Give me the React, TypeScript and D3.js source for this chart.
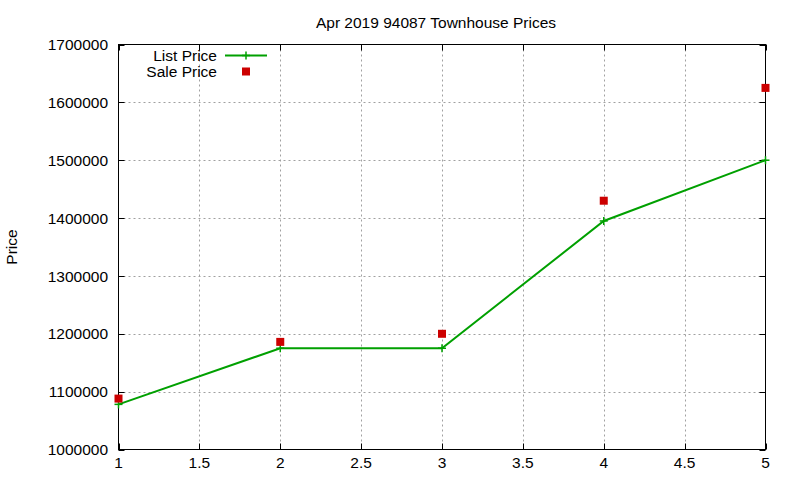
import * as d3 from "d3";

// Chart data
const xValues = [1, 2, 3, 4, 5];
const listPrice = [1078000, 1175000, 1175000, 1395000, 1500000];
const salePrice = [1088000, 1186000, 1200000, 1430000, 1625000];
const xTicks = [1, 1.5, 2, 2.5, 3, 3.5, 4, 4.5, 5];
const yTicks = [1000000, 1100000, 1200000, 1300000, 1400000, 1500000, 1600000, 1700000];

const width = 800;
const height = 480;
const margin = { top: 44.5, right: 34.5, bottom: 30.5, left: 118.5 };
const font = "'Liberation Sans', Arial, sans-serif";

export default function App() {
  const x = d3.scaleLinear().domain([1, 5]).range([margin.left, width - margin.right]);
  const y = d3.scaleLinear().domain([1000000, 1700000]).range([height - margin.bottom, margin.top]);

  const line = d3
    .line<number>()
    .x((_, i) => x(xValues[i]))
    .y((d) => y(d));

  const tick = 6;
  const x0 = x.range()[0];
  const x1 = x.range()[1];
  const y0 = y.range()[0];
  const y1 = y.range()[1];

  return (
    <div style={{ position: "absolute", left: 0, top: 0 }}>
      <svg width={width} height={height} style={{ display: "block", background: "#fff" }} fontFamily={font}>
        {/* grid */}
        <g stroke="#a0a0a0" strokeWidth={1} strokeDasharray="2 3">
          {xTicks.slice(1, -1).map((t) => (
            <line key={"gx" + t} x1={Math.round(x(t)) + 0.5} x2={Math.round(x(t)) + 0.5} y1={y1} y2={y0} />
          ))}
          {yTicks.slice(1, -1).map((t) => (
            <line key={"gy" + t} x1={x0} x2={x1} y1={Math.round(y(t)) + 0.5} y2={Math.round(y(t)) + 0.5} />
          ))}
        </g>

        {/* tick marks, mirrored on all sides */}
        <g stroke="#000" strokeWidth={1}>
          {xTicks.map((t) => {
            const px = Math.round(x(t)) + 0.5;
            return (
              <g key={"tx" + t}>
                <line x1={px} x2={px} y1={y0} y2={y0 - tick} />
                <line x1={px} x2={px} y1={y1} y2={y1 + tick} />
              </g>
            );
          })}
          {yTicks.map((t) => {
            const py = Math.round(y(t)) + 0.5;
            return (
              <g key={"ty" + t}>
                <line x1={x0} x2={x0 + tick} y1={py} y2={py} />
                <line x1={x1} x2={x1 - tick} y1={py} y2={py} />
              </g>
            );
          })}
        </g>

        {/* frame */}
        <rect x={x0} y={y1} width={x1 - x0} height={y0 - y1} fill="none" stroke="#000" strokeWidth={1} />

        {/* tick labels */}
        <g fontSize={15.5} fill="#000">
          {xTicks.map((t) => (
            <text key={"lx" + t} x={x(t)} y={468} textAnchor="middle">
              {d3.format("")(t)}
            </text>
          ))}
          {yTicks.map((t) => (
            <text key={"ly" + t} x={108} y={y(t)} dy="0.36em" textAnchor="end">
              {t}
            </text>
          ))}
        </g>

        {/* axis title and chart title */}
        <text x={0} y={0} fontSize={15.5} textAnchor="middle" transform={`translate(17,247) rotate(-90)`}>
          Price
        </text>
        <text x={436} y={28} fontSize={15.5} textAnchor="middle">
          Apr 2019 94087 Townhouse Prices
        </text>

        {/* list price line */}
        <path d={line(listPrice) ?? ""} fill="none" stroke="#00a000" strokeWidth={2} />
        <g stroke="#00a000" strokeWidth={1.5}>
          {listPrice.map((v, i) => (
            <g key={"lp" + i}>
              <line x1={x(xValues[i]) - 4} x2={x(xValues[i]) + 4} y1={y(v)} y2={y(v)} />
              <line x1={x(xValues[i])} x2={x(xValues[i])} y1={y(v) - 4} y2={y(v) + 4} />
            </g>
          ))}
        </g>

        {/* sale price points */}
        <g fill="#cc0000">
          {salePrice.map((v, i) => (
            <rect key={"sp" + i} x={x(xValues[i]) - 4} y={y(v) - 4} width={8} height={8} />
          ))}
        </g>

        {/* legend */}
        <g fontSize={15.5}>
          <text x={217} y={55.5} dy="0.36em" textAnchor="end">
            List Price
          </text>
          <line x1={225} x2={267} y1={55.5} y2={55.5} stroke="#00a000" strokeWidth={2} />
          <line x1={242} x2={250} y1={55.5} y2={55.5} stroke="#00a000" strokeWidth={1.5} />
          <line x1={246} x2={246} y1={51.5} y2={59.5} stroke="#00a000" strokeWidth={1.5} />
          <text x={217} y={71} dy="0.36em" textAnchor="end">
            Sale Price
          </text>
          <rect x={242} y={67.5} width={8} height={8} fill="#cc0000" />
        </g>
      </svg>
    </div>
  );
}
